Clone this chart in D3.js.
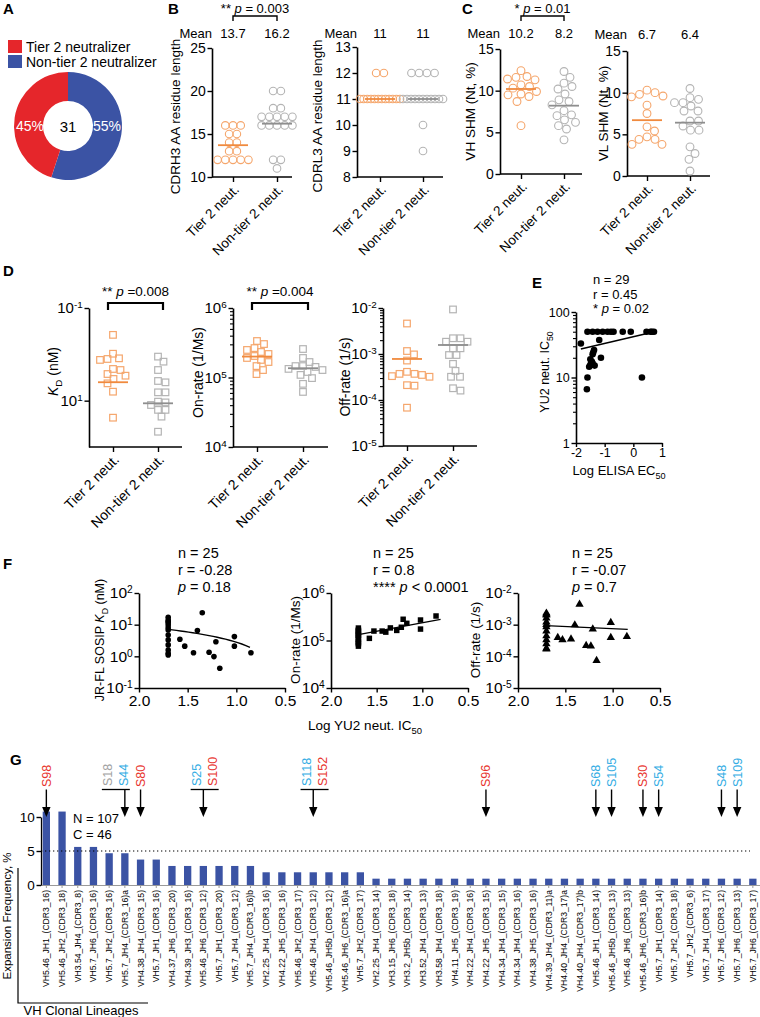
<!DOCTYPE html>
<html><head><meta charset="utf-8">
<script src="https://cdn.jsdelivr.net/npm/d3@7"></script>
<style>
body{margin:0;background:#fff;}
svg{display:block;}
</style></head><body>
<svg id="c" width="760" height="1017"></svg>
<script>
// ================= DATA =================
const legendLabels = ["Tier 2 neutralizer", "Non-tier 2 neutralizer"];
const donutPct = [45, 55];
const donutN = 31;

const groups = ["Tier 2 neut.", "Non-tier 2 neut."];

const cdrh3Tier = [16,16,16,15,15,14,14,13,13,12,12,12,12,12];
const cdrh3NonTier = [20,20,18,18,17,17,17,17,17,16,16,16,16,16,12,12,11];
const cdrh3Mean = [13.7, 16.2];
const cdrl3Tier = [12,12,11,11,11,11,11,11,11,11,11,11,11,11];
const cdrl3NonTier = [12,12,12,12,11,11,11,11,11,11,11,11,11,11,11,10,9];
const cdrl3Mean = [11, 11];

const vhTier = [12.4,11.7,11.6,11.4,11.3,10.7,10.5,10.3,9.9,9.6,9.5,9.3,8.7,5.8];
const vhNonTier = [12.3,11.6,10.9,10.5,10.2,9.6,8.9,8.7,8.3,7.6,7.1,7.0,6.5,6.2,5.8,5.4,4.1];
const vhMean = [10.2, 8.2];
const vlTier = [10.3,10.0,9.8,9.6,9.5,8.5,7.5,5.9,5.4,4.7,4.4,4.4,3.8,3.8];
const vlNonTier = [10.5,9.4,9.2,8.8,8.8,8.4,7.8,7.8,6.6,6.6,6.0,5.5,5.5,3.5,2.7,2.0,0.6];
const vlMean = [6.7, 6.4];

const kdTier = [0.38,0.97,1.22,1.26,1.32,2.07,2.18,2.66,2.89,3.40,4.23,6.40,23.3];
const kdNonTier = [1.12,1.44,2.18,3.76,4.02,6.61,6.61,10.5,10.9,12.4,15.8,15.8,22.1,46.8];
const kdMean = [4.0, 11.4];
const onTier = [3.35e5,3.03e5,2.65e5,2.49e5,2.33e5,2.18e5,2.04e5,1.91e5,1.79e5,1.67e5,1.46e5,1.28e5,1.12e5];
const onNonTier = [2.57e5,1.91e5,1.67e5,1.46e5,1.46e5,1.42e5,1.33e5,1.28e5,1.20e5,1.09e5,9.8e4,8.1e4,6.2e4];
const onMean = [2.0e5, 1.36e5];
const offTier = [4.6e-3,1.16e-3,9.8e-4,7.2e-4,4.1e-4,3.7e-4,3.7e-4,3.5e-4,3.3e-4,3.2e-4,2.1e-4,2.05e-4,6.8e-5];
const offNonTier = [9.3e-3,2.2e-3,2.2e-3,1.85e-3,1.85e-3,1.33e-3,1.33e-3,9.5e-4,9.5e-4,6.1e-4,4.3e-4,3.2e-4,3.2e-4,1.8e-4,1.6e-4];
const offMean = [7.8e-4, 1.57e-3];

// E
const elisaLogEC50 = [-1.83,-1.60,-1.42,-1.25,-1.07,-0.90,-0.78,-0.69,-0.37,-0.09,0.46,0.60,0.65,0.72,
  -1.19,-1.37,-1.42,-1.50,-1.13,-1.42,-1.50,-1.54,-1.60,0.30,-1.62,-1.40,-1.45,-1.48,-1.35];
const yu2IC50E = [33,50,50,50,50,50,50,50,50,50,50,50,50,50,
  37.4,26.3,22.6,19,20,16.5,15.5,14.6,10,10,6.6,24,17.5,16,15.2];
const fitEx = [-1.83, 0.74];
const fitEy = [27.2, 50];

// F (shared x: Log YU2 neut. IC50)
const logYU2 = [1.7,1.7,1.7,1.7,1.7,1.7,1.7,1.7,1.7,1.7,1.7,1.7,1.7,
  1.58,1.53,1.44,1.40,1.35,1.28,1.23,1.21,1.17,1.02,1.02,0.85];
const kdF = [17.1,14,11.5,9.8,6.8,4.7,3.3,2.3,1.58,1.25,12.5,8.0,1.1,
  3.45,2.1,1.3,6.5,23.9,1.34,0.98,2.9,0.42,4.2,2.1,1.3];
const onF = [1.83e5,1.66e5,1.51e5,1.38e5,1.26e5,1.15e5,1.05e5,9.5e4,8.5e4,7.6e4,1.3e5,9.0e4,1.6e5,
  1.11e5,1.58e5,1.58e5,1.5e5,1.84e5,1.63e5,1.9e5,2.8e5,2.3e5,2.7e5,1.74e5,3.28e5];
const offF = [2.3e-3,2.0e-3,1.6e-3,1.2e-3,8.5e-4,6.3e-4,4.4e-4,3.3e-4,2.5e-4,1.8e-4,1.7e-4,2.1e-3,1.0e-3,
  3.9e-4,3.3e-4,3.5e-4,9.8e-4,4.4e-3,2.2e-4,2.1e-4,7.3e-4,7.3e-5,1.16e-3,3.9e-4,4.2e-4];
const fitF1x = [1.70, 0.86], fitF1y = [7.1, 1.93];
const fitF2x = [1.70, 0.80], fitF2y = [1.33e5, 2.79e5];
const fitF3x = [1.707, 0.841], fitF3y = [9.3e-4, 7.1e-4];
const fStats = [["n = 25","r = -0.28","","p = 0.18"],["n = 25","r = 0.8","**** ","p < 0.0001"],["n = 25","r = -0.07","","p = 0.7"]];

// G
const lineages = ["VH5.46_JH1_(CDR3_16)","VH5.46_JH2_(CDR3_18)","VH3.54_JH4_(CDR3_8)","VH5.7_JH6_(CDR3_16)","VH5.7_JH2_(CDR3_16)","VH5.7_JH4_(CDR3_16)a","VH4.38_JH4_(CDR3_15)","VH5.7_JH1_(CDR3_16)","VH4.37_JH6_(CDR3_20)","VH4.39_JH3_(CDR3_16)","VH5.46_JH6_(CDR3_12)","VH5.7_JH1_(CDR3_20)","VH5.7_JH4_(CDR3_12)","VH5.7_JH4_(CDR3_16)b","VH2.25_JH4_(CDR3_16)","VH4.22_JH5_(CDR3_16)","VH5.46_JH2_(CDR3_17)","VH5.46_JH4_(CDR3_12)","VH5.46_JH5b_(CDR3_12)","VH5.46_JH6_(CDR3_16)a","VH5.7_JH2_(CDR3_17)","VH2.25_JH4_(CDR3_14)","VH3.15_JH6_(CDR3_18)","VH3.2_JH5b_(CDR3_14)","VH3.52_JH4_(CDR3_13)","VH3.58_JH4_(CDR3_18)","VH4.11_JH5_(CDR3_19)","VH4.22_JH4_(CDR3_16)","VH4.22_JH5_(CDR3_15)","VH4.34_JH4_(CDR3_15)","VH4.34_JH4_(CDR3_16)","VH4.38_JH5_(CDR3_16)","VH4.39_JH4_(CDR3_11)a","VH4.40_JH4_(CDR3_17)a","VH4.40_JH4_(CDR3_17)b","VH5.46_JH1_(CDR3_14)","VH5.46_JH5b_(CDR3_13)","VH5.46_JH6_(CDR3_13)","VH5.46_JH6_(CDR3_16)b","VH5.7_JH1_(CDR3_14)","VH5.7_JH2_(CDR3_18)","VH5.7_JH2_(CDR3_6)","VH5.7_JH4_(CDR3_17)","VH5.7_JH6_(CDR3_12)","VH5.7_JH6_(CDR3_13)","VH5.7_JH6_(CDR3_17)"];
const expansionFreq = [10.8,10.8,5.6,5.6,4.67,4.67,3.74,3.74,2.8,2.8,2.8,2.8,2.8,2.8,1.87,1.87,1.87,1.87,1.87,1.87,1.87,
  0.93,0.93,0.93,0.93,0.93,0.93,0.93,0.93,0.93,0.93,0.93,0.93,0.93,0.93,0.93,0.93,0.93,0.93,0.93,0.93,0.93,0.93,0.93,0.93,0.93];
const arrowTargets = ["VH5.46_JH1_(CDR3_16)","VH5.7_JH4_(CDR3_16)a","VH4.38_JH4_(CDR3_15)","VH5.46_JH6_(CDR3_12)","VH5.46_JH4_(CDR3_12)","VH4.22_JH5_(CDR3_15)","VH5.46_JH1_(CDR3_14)","VH5.46_JH5b_(CDR3_13)","VH5.46_JH6_(CDR3_16)b","VH5.7_JH1_(CDR3_14)","VH5.7_JH6_(CDR3_12)","VH5.7_JH6_(CDR3_13)"];
const arrowNames = [["S98"],["S18","S44"],["S80"],["S25","S100"],["S118","S152"],["S96"],["S68"],["S105"],["S30"],["S54"],["S48"],["S109"]];
const arrowKinds = [["t"],["n","o"],["t"],["o","t"],["o","t"],["t"],["o"],["o"],["t"],["o"],["o"],["o"]];
const nTotal = 107, cTotal = 46;

// ================= DRAWING =================
const FONT = "'Liberation Sans', Arial, Helvetica, sans-serif";
const RED = "#e5262b", BLUE = "#3b53a4", OR = "#f5a66c", ORD = "#f08a3e", GR = "#b4b4b4", GRD = "#8e8e8e";
const SRED = "#e8352f", SBLUE = "#34ade4", SGRAY = "#a2a2a2";
const svg = d3.select("#c");

function rich(x, y, parts, o = {}) {
  const fs = o.fs || 13;
  const t = svg.append("text").attr("x", x).attr("y", y)
    .style("font-family", FONT).style("font-size", fs + "px")
    .attr("text-anchor", o.anchor || "start").attr("fill", o.fill || "#000");
  if (o.transform) t.attr("transform", o.transform);
  if (o.dy) t.attr("dy", o.dy);
  if (o.weight) t.style("font-weight", o.weight);
  let shift = 0;
  parts.forEach(p => {
    const [s, st] = typeof p === "string" ? [p, ""] : p;
    const ts = t.append("tspan").text(s);
    let target = 0;
    if (st === "i") ts.style("font-style", "italic");
    if (st === "sub") { ts.style("font-size", (fs * 0.7) + "px"); target = fs * 0.3; }
    if (st === "sup") { ts.style("font-size", (fs * 0.7) + "px"); target = -fs * 0.45; }
    if (target !== shift) { ts.attr("dy", target - shift); shift = target; }
  });
  return t;
}
function letter(s, x, y) { rich(x, y, [s], {fs: 15, weight: "bold"}); }

function styleAxis(g, fs) {
  g.attr("font-family", null).attr("font-size", null);
  g.select(".domain").attr("stroke", "#000").attr("stroke-width", 1.6);
  g.selectAll(".tick line").attr("stroke", "#000").attr("stroke-width", 1.4);
  g.selectAll(".tick text").style("font-family", FONT).style("font-size", fs + "px").attr("fill", "#000");
}
function supify(g) {
  g.selectAll(".tick text").each(function(d) {
    const e = Math.round(Math.log10(d));
    const t = d3.select(this); t.text("");
    t.append("tspan").text("10");
    t.append("tspan").attr("dy", "-0.5em").style("font-size", "0.66em").text(e);
  });
}
function minorVals(ys) {
  const [a, b] = d3.extent(ys.domain());
  const out = [];
  for (let k = Math.floor(Math.log10(a)); k < Math.ceil(Math.log10(b)); k++)
    for (let m = 2; m <= 9; m++) { const v = m * Math.pow(10, k); if (v > a && v < b) out.push(v); }
  return out;
}
function yAxis(x, ys, ticks, o) {
  const ax = d3.axisLeft(ys).tickValues(ticks).tickSize(4.5).tickPadding(1.8).tickSizeOuter(0);
  if (o.fmt) ax.tickFormat(o.fmt);
  const g = svg.append("g").attr("transform", `translate(${x},0)`).call(ax);
  styleAxis(g, o.fs);
  if (o.sup) supify(g);
  if (o.minor) {
    const m = svg.append("g").attr("transform", `translate(${x},0)`)
      .call(d3.axisLeft(ys).tickValues(minorVals(ys)).tickSize(3).tickFormat(""));
    m.select(".domain").remove();
    m.selectAll("line").attr("stroke", "#000").attr("stroke-width", 1.1);
  }
  return g;
}
function rowLayout(vals, sp, maxW) {
  const cnt = d3.rollup(vals, v => v.length, d => d);
  const seen = new Map();
  return vals.map(v => {
    const n = cnt.get(v); const j = seen.get(v) || 0; seen.set(v, j + 1);
    const s = n > 1 ? Math.min(sp, maxW / (n - 1)) : 0;
    return {v, dx: (j - (n - 1) / 2) * s};
  });
}
function swarm(vals, ys, dist) {
  const pts = vals.map(v => ({v, y: ys(v)})).sort((a, b) => a.y - b.y);
  const placed = [];
  pts.forEach(p => {
    let off = 0;
    for (let k = 0; k < 400; k++) {
      const c = (k % 2 ? 1 : -1) * Math.ceil(k / 2) * 0.5;
      if (placed.every(q => (q.dx - c) ** 2 + (q.y - p.y) ** 2 >= dist * dist)) { off = c; break; }
    }
    p.dx = off; placed.push(p);
  });
  return pts;
}

function dotPanel(c) {
  const axisY = d3.max(c.ys.range());
  const xs = d3.scalePoint().domain(groups).range(c.cats);
  svg.append("line").attr("x1", c.ax).attr("x2", c.ax1).attr("y1", axisY).attr("y2", axisY)
    .attr("stroke", "#000").attr("stroke-width", 1.6);
  const xg = svg.append("g").attr("transform", `translate(0,${axisY})`)
    .call(d3.axisBottom(xs).tickSize(5).tickSizeOuter(0));
  xg.select(".domain").remove();
  styleAxis(xg, c.catFs);
  xg.selectAll(".tick text").attr("y", 0).attr("x", 0).attr("dy", "0.35em")
    .attr("transform", "translate(3,10) rotate(-45)").style("text-anchor", "end");
  yAxis(c.ax, c.ys, c.ticks, {fs: c.fs, sup: c.sup, minor: c.minor, fmt: c.fmt});
  const cols = [[OR, ORD], [GR, GRD]];
  c.data.forEach((vals, i) => {
    const pts = c.layout === "row" ? rowLayout(vals, c.sp, c.maxW) : swarm(vals, c.ys, c.dist);
    const cx = xs(groups[i]);
    const g = svg.append("g");
    if (c.shape === "circle") {
      g.selectAll("circle").data(pts).join("circle")
        .attr("cx", d => cx + d.dx).attr("cy", d => c.ys(d.v)).attr("r", c.r)
        .attr("fill", "none").attr("stroke", cols[i][0]).attr("stroke-width", 1.1);
    } else {
      g.selectAll("rect").data(pts).join("rect")
        .attr("x", d => cx + d.dx - c.r).attr("y", d => c.ys(d.v) - c.r)
        .attr("width", 2 * c.r).attr("height", 2 * c.r)
        .attr("fill", "none").attr("stroke", cols[i][0]).attr("stroke-width", 1.2);
    }
    svg.append("line").attr("x1", cx - 15).attr("x2", cx + 15)
      .attr("y1", c.ys(c.means[i])).attr("y2", c.ys(c.means[i]))
      .attr("stroke", cols[i][1]).attr("stroke-width", 1.8);
  });
  if (c.showMeans) {
    rich(c.ax, c.meanY, ["Mean"], {fs: 13, anchor: "end"});
    c.means.forEach((m, i) => rich(xs(groups[i]), c.meanY, [String(m)], {fs: 13, anchor: "middle"}));
  }
  if (c.bracket) {
    const b = c.bracket, x1 = xs(groups[0]) - (b.ext || 0), x2 = xs(groups[1]) + (b.ext || 0);
    svg.append("path").attr("d", `M${x1},${b.y + b.h}V${b.y}H${x2}V${b.y + b.h}`)
      .attr("fill", "none").attr("stroke", "#000").attr("stroke-width", b.w || 1.4);
    rich((x1 + x2) / 2, b.ty, b.parts, {fs: b.fs || 13, anchor: "middle"});
  }
  const ymid = (d3.min(c.ys.range()) + axisY) / 2 + (c.labDy || 0);
  rich(0, 0, c.yLabel, {fs: c.labFs, anchor: "middle", dy: "0.35em",
    transform: `translate(${c.labX},${ymid}) rotate(-90)`});
  return xs;
}

// ---------- Panel A ----------
letter("A", 3, 14);
[RED, BLUE].forEach((col, i) => {
  svg.append("rect").attr("x", 8).attr("y", 40 + i * 15).attr("width", 14).attr("height", 13).attr("fill", col);
  rich(26, 52 + i * 15, [legendLabels[i]], {fs: 14});
});
{
  const cx = 68, cy = 126;
  const arr = [{v: donutPct[1], c: BLUE}, {v: donutPct[0], c: RED}];
  const pie = d3.pie().sort(null).value(d => d.v).startAngle(0).endAngle(2 * Math.PI);
  const arc = d3.arc().innerRadius(25).outerRadius(54);
  const g = svg.append("g").attr("transform", `translate(${cx},${cy})`);
  g.selectAll("path").data(pie(arr)).join("path").attr("d", arc).attr("fill", d => d.data.c);
  rich(cx - 38, cy + 5, [donutPct[0] + "%"], {fs: 14, anchor: "middle", fill: "#fff"});
  rich(cx + 39, cy + 5, [donutPct[1] + "%"], {fs: 14, anchor: "middle", fill: "#fff"});
  rich(cx, cy + 5.5, [String(donutN)], {fs: 15, anchor: "middle"});
}

// ---------- Panel B ----------
letter("B", 168, 14);
dotPanel({ax: 212, ax1: 292, ys: d3.scaleLinear().domain([10, 25]).range([177, 48]), cats: [233, 277],
  ticks: [10, 15, 20, 25], fs: 14, catFs: 13.5, data: [cdrh3Tier, cdrh3NonTier], means: cdrh3Mean,
  shape: "circle", r: 3.8, layout: "row", sp: 7.7, maxW: 40, showMeans: true, meanY: 38,
  bracket: {y: 16, h: 5, ty: 12.5, parts: ["** ", ["p", "i"], " = 0.003"]},
  yLabel: ["CDRH3 AA residue length"], labX: 175, labFs: 13.5, labDy: 4});
dotPanel({ax: 357, ax1: 443, ys: d3.scaleLinear().domain([8, 13]).range([177, 47]), cats: [380, 423],
  ticks: [8, 9, 10, 11, 12, 13], fmt: d3.format("d"), fs: 14, catFs: 13.5, data: [cdrl3Tier, cdrl3NonTier], means: cdrl3Mean,
  shape: "circle", r: 3.8, layout: "row", sp: 7.7, maxW: 40, showMeans: true, meanY: 38,
  yLabel: ["CDRL3 AA residue length"], labX: 317, labFs: 13.5, labDy: 4});

// ---------- Panel C ----------
letter("C", 462, 14);
dotPanel({ax: 500, ax1: 582, ys: d3.scaleLinear().domain([0, 15]).range([174, 49]), cats: [521, 564],
  ticks: [0, 5, 10, 15], fs: 14, catFs: 13.5, data: [vhTier, vhNonTier], means: vhMean,
  shape: "circle", r: 3.9, layout: "swarm", dist: 8.3, showMeans: true, meanY: 38,
  bracket: {y: 16, h: 5, ty: 12.5, parts: ["* ", ["p", "i"], " = 0.01"]},
  yLabel: ["VH SHM (Nt, %)"], labX: 470, labFs: 13.5, labDy: 0});
dotPanel({ax: 627, ax1: 710, ys: d3.scaleLinear().domain([0, 15]).range([176, 51]), cats: [647, 690],
  ticks: [0, 5, 10, 15], fs: 14, catFs: 13.5, data: [vlTier, vlNonTier], means: vlMean,
  shape: "circle", r: 3.9, layout: "swarm", dist: 8.3, showMeans: true, meanY: 39,
  yLabel: ["VL SHM (Nt, %)"], labX: 603, labFs: 13.5, labDy: 0});

// ---------- Panel D ----------
letter("D", 3, 276);
dotPanel({ax: 89, ax1: 182, ys: d3.scaleLog().domain([0.1, 100]).range([308, 447]), cats: [113, 158],
  ticks: [0.1, 10], sup: true, fs: 15, catFs: 14, data: [kdTier, kdNonTier], means: kdMean,
  shape: "square", r: 3.3, layout: "swarm", dist: 7.4,
  bracket: {y: 303, h: 7, ty: 296, w: 2.2, ext: 5, fs: 13.5, parts: ["** ", ["p", "i"], " =0.008"]},
  yLabel: [["K", "i"], ["D", "sub"], " (nM)"], labX: 53, labFs: 14, labDy: -6});
dotPanel({ax: 233, ax1: 328, ys: d3.scaleLog().domain([1e4, 1e6]).range([447, 308]), cats: [257, 303],
  ticks: [1e4, 1e5, 1e6], sup: true, minor: true, fs: 15, catFs: 14, data: [onTier, onNonTier], means: onMean,
  shape: "square", r: 3.3, layout: "swarm", dist: 7.4,
  bracket: {y: 303, h: 7, ty: 296, w: 2.2, ext: 5, fs: 13.5, parts: ["** ", ["p", "i"], " =0.004"]},
  yLabel: ["On-rate (1/Ms)"], labX: 198, labFs: 14, labDy: -5});
dotPanel({ax: 383, ax1: 477, ys: d3.scaleLog().domain([1e-5, 1e-2]).range([446, 308]), cats: [407, 453],
  ticks: [1e-5, 1e-4, 1e-3, 1e-2], sup: true, minor: true, fs: 15, catFs: 14, data: [offTier, offNonTier], means: offMean,
  shape: "square", r: 3.3, layout: "swarm", dist: 7.4,
  yLabel: ["Off-rate (1/s)"], labX: 345, labFs: 14, labDy: 0});

// ---------- Panel E ----------
letter("E", 532, 288);
{
  const xE = d3.scaleLinear().domain([-2, 1]).range([576, 662]);
  const yE = d3.scaleLog().domain([1, 100]).range([443, 312]);
  yAxis(576, yE, [1, 10, 100], {fs: 12.5, minor: true, fmt: d3.format("d")});
  const xg = svg.append("g").attr("transform", "translate(0,443)")
    .call(d3.axisBottom(xE).tickValues([-2, -1, 0, 1]).tickSize(4).tickPadding(1.5).tickSizeOuter(0).tickFormat(d3.format("d")));
  styleAxis(xg, 12.5);
  xg.selectAll(".tick text").text(d => d < 0 ? "-" + Math.abs(d) : d);
  const pts = elisaLogEC50.map((x, i) => [x, yu2IC50E[i]]);
  svg.append("g").selectAll("circle").data(pts).join("circle")
    .attr("cx", d => xE(d[0])).attr("cy", d => yE(d[1])).attr("r", 3.3).attr("fill", "#000");
  svg.append("path").datum(fitEx.map((x, i) => [x, fitEy[i]]))
    .attr("d", d3.line().x(d => xE(d[0])).y(d => yE(d[1])))
    .attr("stroke", "#000").attr("stroke-width", 1.4).attr("fill", "none");
  rich(593, 284, ["n = 29"], {fs: 13});
  rich(593, 298.5, ["r = 0.45"], {fs: 13});
  rich(593, 313, ["* ", ["p", "i"], " = 0.02"], {fs: 13});
  rich(619, 475, ["Log ELISA EC", ["50", "sub"]], {fs: 13, anchor: "middle"});
  rich(0, 0, ["YU2 neut. IC", ["50", "sub"]], {fs: 12.5, anchor: "middle", dy: "0.35em", transform: "translate(545,372) rotate(-90)"});
}

// ---------- Panel F ----------
letter("F", 3, 569);
function fPanel(c) {
  const xs = d3.scaleLinear().domain([2.0, 0.5]).range(c.xr);
  const ys = d3.scaleLog().domain(c.yd).range([688, 593]);
  yAxis(c.xr[0], ys, c.ticks, {fs: 15.5, sup: true});
  const xg = svg.append("g").attr("transform", "translate(0,688)")
    .call(d3.axisBottom(xs).tickValues([2.0, 1.5, 1.0, 0.5]).tickSize(4.5).tickPadding(2).tickSizeOuter(0).tickFormat(d3.format(".1f")));
  styleAxis(xg, 15.5);
  const pts = logYU2.map((x, i) => [x, c.vals[i]]);
  const g = svg.append("g");
  if (c.shape === "circle") {
    g.selectAll("circle").data(pts).join("circle").attr("cx", d => xs(d[0])).attr("cy", d => ys(d[1])).attr("r", 2.8).attr("fill", "#000");
  } else {
    const sym = d3.symbol().type(c.shape === "square" ? d3.symbolSquare : d3.symbolTriangle).size(30);
    g.selectAll("path").data(pts).join("path").attr("transform", d => `translate(${xs(d[0])},${ys(d[1])})`).attr("d", sym).attr("fill", "#000");
  }
  let fit = c.fx.map((x, i) => [x, c.fy[i]]);
  if (c.linearFit) fit = d3.range(0, 1.0001, 0.05).map(t => [c.fx[0] + (c.fx[1] - c.fx[0]) * t, c.fy[0] + (c.fy[1] - c.fy[0]) * t]);
  svg.append("path").datum(fit).attr("d", d3.line().x(d => xs(d[0])).y(d => ys(d[1])))
    .attr("stroke", "#000").attr("stroke-width", 1.4).attr("fill", "none");
  rich(c.tx, 558, [c.stats[0]], {fs: 14.5});
  rich(c.tx, 575, [c.stats[1]], {fs: 14.5});
  rich(c.tx, 592, [c.stats[2], ["p", "i"], c.stats[3].slice(1)], {fs: 14.5});
  rich(0, 0, c.label, {fs: c.labFs, anchor: "middle", dy: "0.35em", transform: `translate(${c.labX},640) rotate(-90)`});
}
fPanel({xr: [139, 285], yd: [0.1, 100], ticks: [0.1, 1, 10, 100], vals: kdF, shape: "circle",
  fx: fitF1x, fy: fitF1y, linearFit: true, tx: 178, stats: fStats[0],
  label: ["JR-FL SOSIP ", ["K", "i"], ["D", "sub"], " (nM)"], labX: 100, labFs: 12.5});
fPanel({xr: [331, 468], yd: [1e4, 1e6], ticks: [1e4, 1e5, 1e6], vals: onF, shape: "square",
  fx: fitF2x, fy: fitF2y, tx: 373, stats: fStats[1],
  label: ["On-rate (1/Ms)"], labX: 295, labFs: 13.5});
fPanel({xr: [518, 660], yd: [1e-5, 1e-2], ticks: [1e-5, 1e-4, 1e-3, 1e-2], vals: offF, shape: "triangle",
  fx: fitF3x, fy: fitF3y, tx: 572, stats: fStats[2],
  label: ["Off-rate (1/s)"], labX: 475, labFs: 13.5});
rich(365, 730, ["Log YU2 neut. IC", ["50", "sub"]], {fs: 13.5, anchor: "middle"});

// ---------- Panel G ----------
letter("G", 10, 765);
{
  const xG = d3.scaleBand().domain(lineages).range([38.5, 760.7]).paddingInner(0.535).paddingOuter(0.2675);
  const yG = d3.scaleLinear().domain([0, 10]).range([885, 817]);
  const bw = xG.bandwidth();
  svg.append("g").selectAll("rect").data(lineages).join("rect")
    .attr("x", d => xG(d)).attr("width", bw)
    .attr("y", (d, i) => yG(expansionFreq[i])).attr("height", (d, i) => yG(0) - yG(expansionFreq[i]))
    .attr("fill", BLUE);
  const xg = svg.append("g").attr("transform", "translate(0,885)")
    .call(d3.axisBottom(xG).tickSize(3).tickSizeOuter(0));
  xg.attr("font-family", null).attr("font-size", null);
  xg.select(".domain").attr("stroke", "#9a9a9a").attr("stroke-width", 1.2);
  xg.selectAll(".tick line").attr("stroke", "#9a9a9a");
  xg.selectAll(".tick text").attr("x", 0).attr("y", 0).attr("dy", "0.35em")
    .attr("transform", "translate(0,5) rotate(-90)").style("text-anchor", "end")
    .style("font-family", FONT).style("font-size", "8.6px").attr("fill", "#000");
  const yg = svg.append("g").attr("transform", "translate(41,0)")
    .call(d3.axisLeft(yG).tickValues([0, 5, 10]).tickSize(4.5).tickPadding(1.8).tickSizeOuter(0));
  styleAxis(yg, 13.5);
  yg.select(".domain").attr("stroke-width", 1.3);
  svg.append("line").attr("x1", 41).attr("x2", 750).attr("y1", yG(5)).attr("y2", yG(5))
    .attr("stroke", "#000").attr("stroke-width", 1.1).attr("stroke-dasharray", "1.3 2.7");
  rich(73, 823, ["N = " + nTotal], {fs: 13});
  rich(73, 838.5, ["C = " + cTotal], {fs: 13});
  const colorOf = {t: SRED, o: SBLUE, n: SGRAY};
  const groupShift = [0, -9, 0, 1.3, 1.3, 0, 0, 0, 0, 0, 0, 0];
  arrowTargets.forEach((lin, k) => {
    const ax = xG(lin) + bw / 2;
    svg.append("line").attr("x1", ax).attr("x2", ax).attr("y1", 789.5).attr("y2", 808)
      .attr("stroke", "#000").attr("stroke-width", 1.4);
    svg.append("path").attr("d", `M${ax - 4.2},807L${ax + 4.2},807L${ax},817Z`).attr("fill", "#000");
    const names = arrowNames[k];
    if (names.length === 1) {
      rich(0, 0, [names[0]], {fs: 12.5, dy: "0.35em", fill: colorOf[arrowKinds[k][0]], transform: `translate(${ax},787) rotate(-90)`});
    } else {
      const cx = ax + groupShift[k];
      svg.append("line").attr("x1", cx - 14).attr("x2", cx + 14).attr("y1", 789.5).attr("y2", 789.5)
        .attr("stroke", "#000").attr("stroke-width", 1.3);
      names.forEach((nm, j) => {
        const lx = cx + (j === 0 ? -8 : 8);
        rich(0, 0, [nm], {fs: 12.5, dy: "0.35em", fill: colorOf[arrowKinds[k][j]], transform: `translate(${lx},786) rotate(-90)`});
      });
    }
  });
  rich(0, 0, ["Expansion Frequency, %"], {fs: 11.5, anchor: "middle", dy: "0.35em", transform: "translate(7,916) rotate(-90)"});
  svg.append("path").attr("d", "M18,868V1003H148").attr("fill", "none").attr("stroke", "#000").attr("stroke-width", 1.2);
  rich(81, 1015, ["VH Clonal Lineages"], {fs: 13, anchor: "middle"});
}
</script>
</body></html>
